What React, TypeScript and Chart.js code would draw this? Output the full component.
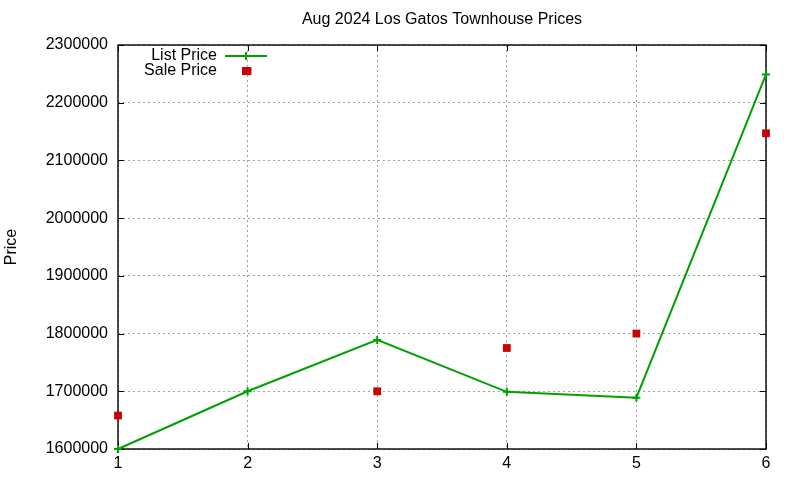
import { useEffect, useRef } from 'react';
import { Chart, registerables, Plugin } from 'chart.js';

Chart.register(...registerables);

const FONT = '"Liberation Sans", Arial, sans-serif';

const houseIndex = [1, 2, 3, 4, 5, 6];
const listPrice = [1600000, 1700000, 1789000, 1699000, 1689000, 2249000];
const salePrice = [1658000, 2255000, 1700000, 1775000, 1800000, 2147000];

const GREEN = '#00a000';
const RED = '#cc0000';

// gnuplot style box: full border plus inward tick marks on all four sides
const framePlugin: Plugin<'line'> = {
  id: 'frame',
  beforeDatasetsDraw(chart) {
    const { ctx, chartArea: a, scales } = chart;
    const tick = 6;
    ctx.save();
    ctx.strokeStyle = '#000';
    ctx.lineWidth = 1;
    ctx.beginPath();
    scales.x.ticks.forEach((t) => {
      const px = Math.round(scales.x.getPixelForValue(t.value)) + 0.5;
      ctx.moveTo(px, a.bottom);
      ctx.lineTo(px, a.bottom - tick);
      ctx.moveTo(px, a.top);
      ctx.lineTo(px, a.top + tick);
    });
    scales.y.ticks.forEach((t) => {
      const py = Math.round(scales.y.getPixelForValue(t.value)) + 0.5;
      ctx.moveTo(a.left, py);
      ctx.lineTo(a.left + tick, py);
      ctx.moveTo(a.right, py);
      ctx.lineTo(a.right - tick, py);
    });
    ctx.stroke();
    ctx.lineWidth = 1.4;
    ctx.strokeRect(a.left, a.top, a.right - a.left, a.bottom - a.top);
    ctx.restore();
  },
};

// key in the top left: label right-aligned, sample to its right
const keyPlugin: Plugin<'line'> = {
  id: 'key',
  afterDraw(chart) {
    const { ctx, chartArea: a } = chart;
    const textRight = a.left + 99;
    const sampleLeft = a.left + 107;
    const sampleRight = a.left + 149;
    const mid = (sampleLeft + sampleRight) / 2;
    ctx.save();
    ctx.font = `16px ${FONT}`;
    ctx.textAlign = 'right';
    ctx.textBaseline = 'middle';
    chart.data.datasets.forEach((ds: any, i) => {
      const y = a.top + 11 + i * 15;
      ctx.fillStyle = '#000';
      ctx.fillText(ds.label, textRight, y);
      if (ds.showLine !== false) {
        ctx.strokeStyle = ds.borderColor;
        ctx.lineWidth = 2;
        ctx.beginPath();
        ctx.moveTo(sampleLeft, y);
        ctx.lineTo(sampleRight, y);
        ctx.moveTo(mid, y - 4);
        ctx.lineTo(mid, y + 4);
        ctx.stroke();
      } else {
        ctx.fillStyle = ds.pointBackgroundColor;
        ctx.fillRect(mid - 4, y - 4, 8, 8);
      }
    });
    ctx.restore();
  },
};

export default function App() {
  const canvasRef = useRef<HTMLCanvasElement>(null);
  const chartRef = useRef<Chart | null>(null);

  useEffect(() => {
    if (!canvasRef.current) return;
    if (chartRef.current) chartRef.current.destroy();

    const grid = {
      color: '#a0a0a0',
      lineWidth: 1,
      drawTicks: false,
    };

    chartRef.current = new Chart(canvasRef.current, {
      type: 'line',
      data: {
        datasets: [
          {
            label: 'List Price',
            data: houseIndex.map((x, i) => ({ x, y: listPrice[i] })),
            borderColor: GREEN,
            backgroundColor: GREEN,
            borderWidth: 2,
            pointStyle: 'cross',
            pointRadius: 4,
            pointBorderWidth: 2,
            pointBorderColor: GREEN,
            pointBackgroundColor: GREEN,
            clip: false,
          },
          {
            label: 'Sale Price',
            data: houseIndex.map((x, i) => ({ x, y: salePrice[i] })),
            showLine: false,
            borderColor: RED,
            backgroundColor: RED,
            pointStyle: 'rect',
            pointRadius: 5.5,
            pointBorderWidth: 0,
            pointBackgroundColor: RED,
            clip: false,
          },
        ],
      },
      options: {
        responsive: true,
        maintainAspectRatio: false,
        animation: false,
        layout: { padding: { left: 0, right: 34, top: 0, bottom: 0 } },
        plugins: {
          legend: { display: false },
          tooltip: { enabled: false },
          title: {
            display: true,
            text: 'Aug 2024 Los Gatos Townhouse Prices',
            fullSize: false,
            color: '#000',
            font: { family: FONT, size: 16, weight: 'normal' },
            padding: { top: 10, bottom: 15.8 },
          },
        },
        scales: {
          x: {
            type: 'linear',
            min: 1,
            max: 6,
            ticks: {
              stepSize: 1,
              color: '#000',
              padding: 5,
              font: { family: FONT, size: 16 },
            },
            grid: { ...grid },
            border: { display: false, dash: [2, 3] },
            afterFit: (scale) => {
              scale.height = 31;
            },
          },
          y: {
            type: 'linear',
            min: 1600000,
            max: 2300000,
            ticks: {
              stepSize: 100000,
              color: '#000',
              padding: 10,
              font: { family: FONT, size: 16 },
              callback: (v) => String(v),
            },
            grid: { ...grid },
            border: { display: false, dash: [2, 3] },
            title: {
              display: true,
              text: 'Price',
              color: '#000',
              font: { family: FONT, size: 16 },
              padding: { top: 2, bottom: 0 },
            },
            afterFit: (scale) => {
              scale.width = 118;
            },
          },
        },
      },
      plugins: [framePlugin, keyPlugin],
    });

    return () => {
      if (chartRef.current) {
        chartRef.current.destroy();
        chartRef.current = null;
      }
    };
  }, []);

  return (
    <div style={{ position: 'fixed', left: 0, top: 0, width: 800, height: 480, background: '#fff' }}>
      <canvas ref={canvasRef} />
    </div>
  );
}
